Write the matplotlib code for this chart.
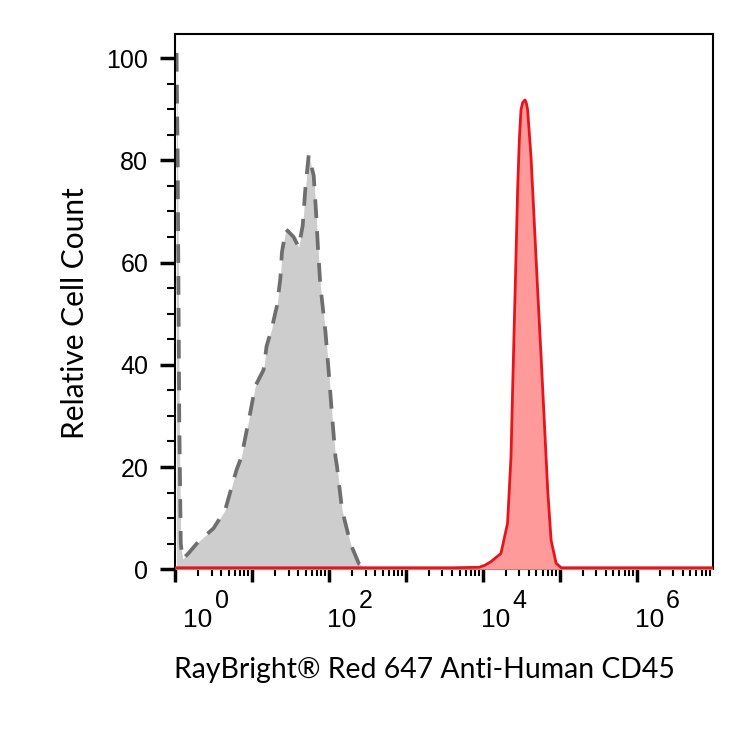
import numpy as np
import matplotlib
matplotlib.use('Agg')
import matplotlib.pyplot as plt
from matplotlib import transforms
from matplotlib.ticker import FixedLocator, LogLocator, MultipleLocator, NullFormatter

# histogram outlines: x as log10(fluorescence), y as relative count
iso_log = [0.02, 0.035, 0.055, 0.075, 0.10, 0.173, 0.304, 0.50, 0.652, 0.799, 0.864,
           0.934, 0.978, 1.043, 1.151, 1.19, 1.256, 1.325, 1.369, 1.39, 1.442, 1.477,
           1.542, 1.608, 1.66, 1.695, 1.738, 1.803, 1.833, 1.859, 1.89, 1.956, 1.999,
           2.042, 2.086, 2.107, 2.172, 2.282, 2.39, 2.477, 2.65]
iso_cnt = [101, 80, 30, 5, 2.0, 3.1, 5.4, 8.0, 11.6, 19.4, 22, 27.3, 30.6, 35.8, 39,
           43.6, 47, 51.5, 56.8, 62, 66.5, 66, 65, 63, 67.2, 74.5, 81, 77, 70, 62.7,
           55.5, 46.4, 38.5, 30, 22, 20, 11.6, 5, 1.1, 0.1, 0]

cd45_log = [0.0, 3.0, 3.6, 3.954, 4.03, 4.107, 4.237, 4.323, 4.368, 4.389, 4.411, 4.433,
            4.454, 4.476, 4.498, 4.52, 4.55, 4.565, 4.584, 4.628, 4.671, 4.714, 4.759,
            4.802, 4.845, 4.889, 4.954, 5.02, 5.5, 6.99]
cd45_cnt = [0.3, 0.3, 0.3, 0.4, 0.8, 1.5, 3.1, 9, 22, 35.1, 48.2, 61.2, 74.2, 84, 89.9,
            91.3, 91.8, 91.3, 89.9, 80.7, 67.7, 54.7, 41.6, 28.6, 15.5, 5.7, 1.2, 0.3,
            0.3, 0.3]

x_label_exps = [0, 2, 4, 6]
y_ticks = [0, 20, 40, 60, 80, 100]

plt.rcParams['font.family'] = ['Liberation Sans', 'DejaVu Sans']

fig = plt.figure(figsize=(7.5, 7.45), dpi=100)
W, H = 750, 745
ax = fig.add_axes([175 / W, 1 - 569.3 / H, (712.7 - 175) / W, (569.3 - 34) / H])

iso_x = 10 ** np.array(iso_log)
ax.fill_between(iso_x, iso_cnt, 0, color='#cdcdcd', lw=0, zorder=1)
ax.plot(iso_x, iso_cnt, color='#6e6e6e', lw=2.7, ls=(0, (5, 3.5)), zorder=2)

cd_x = 10 ** np.array(cd45_log)
ax.fill_between(cd_x, cd45_cnt, 0, color='#ff9a9a', lw=0, zorder=3)
ax.plot(cd_x, cd45_cnt, color='#e8141b', lw=2.0, zorder=4)

ax.set_xscale('log')
ax.set_xlim(1, 10 ** 6.99)
ax.set_ylim(0, 104.7)

ax.yaxis.set_major_locator(FixedLocator(y_ticks))
ax.yaxis.set_minor_locator(MultipleLocator(5))
ax.xaxis.set_major_locator(LogLocator(base=10, numticks=20))
ax.xaxis.set_minor_locator(LogLocator(base=10, subs=np.arange(2, 10), numticks=20))
ax.xaxis.set_major_formatter(NullFormatter())
ax.xaxis.set_minor_formatter(NullFormatter())

ax.tick_params(axis='y', which='major', length=10.8, width=2.5, direction='out',
               labelsize=18, pad=8.5)
ax.tick_params(axis='y', which='minor', length=5.8, width=1.5, direction='out')
ax.tick_params(axis='x', which='major', length=9.4, width=2.5, direction='out')
ax.tick_params(axis='x', which='minor', length=5.0, width=1.5, direction='out')

for s in ax.spines.values():
    s.set_linewidth(1.5)

# decade labels sit left-aligned next to their tick, exponent raised and full size
base = transforms.blended_transform_factory(ax.transData, ax.transAxes)
for e in x_label_exps:
    dx = 8.3 if e == 0 else -2.0
    t10 = transforms.offset_copy(base, fig=fig, x=dx, y=-57.4, units='dots')
    ax.text(10 ** e, 0, '10', transform=t10, ha='left', va='baseline', fontsize=19)
    tex = transforms.offset_copy(base, fig=fig, x=dx + 31.7, y=-38.7, units='dots')
    ax.text(10 ** e, 0, str(e), transform=tex, ha='left', va='baseline', fontsize=18)

fig.text(75 / W, 1 - 313.5 / H, 'Relative Cell Count', rotation=90, ha='center',
         va='center', family=['Lato', 'DejaVu Sans'], fontsize=21.5)
fig.text(424 / W, 1 - 678 / H, 'RayBright® Red 647 Anti-Human CD45', ha='center',
         va='baseline', family=['Lato', 'DejaVu Sans'], fontsize=20.4)

fig.savefig('out.png', dpi=100, facecolor='white')
